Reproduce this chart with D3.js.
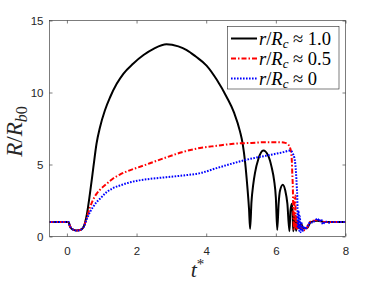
<!DOCTYPE html>
<html>
<head>
<meta charset="utf-8">
<script src="https://cdn.jsdelivr.net/npm/d3@7"></script>
<style>
  html, body { margin: 0; padding: 0; background: #fff; }
  svg { display: block; }
</style>
</head>
<body>
<svg id="chart" width="382" height="286"></svg>
<script>
// ---- data ----
const xTicks = [0, 2, 4, 6, 8];
const yTicks = [0, 5, 10, 15];
const legendValues = ["1.0", "0.5", "0"];

const blackT = [-0.5, 0.05, 0.08, 0.13, 0.2, 0.28, 0.38, 0.47, 0.57, 0.66, 0.76, 0.85, 0.95, 1.09, 1.24, 1.43, 1.62, 1.9, 2.2, 2.5, 2.86, 3.2, 3.44, 3.7, 4.01, 4.3, 4.59, 4.8, 4.97, 5.05, 5.12, 5.18, 5.23, 5.26,
  5.3, 5.35, 5.4, 5.5, 5.64, 5.78, 5.88, 5.95, 6.0, 6.04,
  6.08, 6.12, 6.2, 6.27, 6.33, 6.39,
  6.42, 6.46, 6.48, 6.5,
  6.53, 6.55, 6.57, 6.58,
  6.62, 6.66, 6.72, 6.8, 6.9, 7.0, 7.2, 7.4, 8.0];
const blackR = [1, 1, 0.75, 0.55, 0.46, 0.42, 0.45, 0.62, 1.5, 2.96, 4.81, 6.44, 7.59, 8.75, 9.67, 10.6, 11.3, 12.0, 12.6, 13.05, 13.35, 13.2, 12.95, 12.5, 11.87, 10.9, 9.67, 8.6, 7.3, 6.4, 5.1, 3.5, 1.9, 0.53,
  2.4, 3.6, 4.4, 5.4, 5.97, 5.62, 4.8, 3.9, 2.7, 0.46,
  2.3, 3.2, 3.6, 3.2, 2.3, 0.37,
  1.8, 2.27, 1.7, 0.37,
  1.2, 1.46, 1.0, 0.4,
  1.0, 0.6, 0.9, 0.55, 0.6, 1.0, 1.1, 1.0, 1.0];

const redT = [-0.5, 0.05, 0.08, 0.13, 0.2, 0.28, 0.38, 0.47, 0.57, 0.66, 0.75, 0.85, 0.95, 1.14, 1.3, 1.52, 1.75, 2.05, 2.4, 2.86, 3.3, 3.82, 4.3, 4.78, 5.3, 5.74, 6.1, 6.27, 6.35, 6.41, 6.44, 6.46, 6.47, 6.49, 6.5, 6.52, 6.54, 6.56, 6.57, 6.59, 6.61, 6.64, 6.67, 6.71, 6.76, 6.82, 6.88, 6.94, 7.0, 7.1, 7.2, 7.3, 7.45, 8.0];
const redR = [1, 1, 0.75, 0.55, 0.46, 0.42, 0.45, 0.62, 1.3, 2.0, 2.55, 2.96, 3.25, 3.66, 3.98, 4.3, 4.55, 4.8, 5.1, 5.5, 5.85, 6.15, 6.3, 6.44, 6.5, 6.55, 6.55, 6.5, 6.4, 6.15, 5.8, 5.2, 4.5, 3.2, 1.8, 0.5, 2.8, 2.85, 0.6, 1.4, 0.45, 1.2, 0.5, 0.8, 0.4, 0.45, 0.55, 0.85, 1.05, 1.1, 1.15, 1.05, 1.0, 1.0];

const blueT = [-0.5, 0.05, 0.08, 0.13, 0.2, 0.28, 0.38, 0.47, 0.57, 0.66, 0.75, 0.85, 0.95, 1.14, 1.3, 1.52, 1.75, 2.05, 2.38, 2.86, 3.34, 3.82, 4.3, 4.78, 5.26, 5.74, 6.22, 6.41, 6.5, 6.56, 6.6, 6.62, 6.63, 6.65, 6.67, 6.69, 6.71, 6.73, 6.76, 6.8, 6.84, 6.88, 6.93, 6.98, 7.05, 7.12, 7.2, 7.25, 7.3, 7.35, 7.42, 7.5, 7.6, 8.0];
const blueR = [1, 1, 0.75, 0.55, 0.46, 0.42, 0.45, 0.62, 1.2, 1.69, 2.05, 2.38, 2.62, 3.08, 3.33, 3.54, 3.72, 3.89, 4.0, 4.12, 4.24, 4.4, 4.75, 5.09, 5.39, 5.62, 5.86, 5.97, 5.7, 5.0, 3.5, 2.3, 0.6, 1.8, 0.4, 1.4, 0.3, 1.0, 0.35, 0.7, 0.5, 0.6, 0.8, 1.0, 0.95, 1.1, 1.25, 1.05, 1.2, 0.85, 1.05, 0.95, 1.0, 1.0];

// ---- layout ----
const svg = d3.select("#chart");
const L = 49.5, R = 345.5, T = 20.5, B = 236.5;
const x = d3.scaleLinear().domain([-0.5, 8]).range([L, R]);
const y = d3.scaleLinear().domain([0, 15]).range([B, T]);
const axisColor = "#262626";
const tickFont = "Liberation Sans, Arial, Helvetica, sans-serif";

svg.append("defs").append("clipPath").attr("id", "clip")
  .append("rect").attr("x", L).attr("y", T).attr("width", R - L).attr("height", B - T);

svg.append("rect").attr("x", L).attr("y", T).attr("width", R - L).attr("height", B - T).attr("fill", "#fff");

const line = d3.line().x(d => x(d[0])).y(d => y(d[1])).curve(d3.curveMonotoneX);
const series = [
  { t: blackT, r: blackR, color: "#000000", dash: null },
  { t: redT, r: redR, color: "#ff0000", dash: "5,2,1.5,2" },
  { t: blueT, r: blueR, color: "#0000ff", dash: "1.6,1.4" }
];
const gLines = svg.append("g").attr("clip-path", "url(#clip)");
series.forEach(s => {
  gLines.append("path")
    .datum(s.t.map((t, i) => [t, s.r[i]]))
    .attr("d", line)
    .attr("fill", "none")
    .attr("stroke", s.color)
    .attr("stroke-width", 2)
    .attr("stroke-dasharray", s.dash)
    .attr("stroke-linejoin", "round");
});

function styleAxis(g, showLabels) {
  g.select(".domain").remove();
  g.selectAll(".tick line").attr("stroke", axisColor).attr("stroke-width", 0.6);
  g.selectAll(".tick text").attr("fill", axisColor).style("font-family", tickFont).style("font-size", "11.5px");
  if (!showLabels) g.selectAll(".tick text").remove();
}
svg.append("g").attr("transform", `translate(0,${B})`)
  .call(d3.axisBottom(x).tickValues(xTicks).tickSize(-3).tickPadding(10).tickFormat(d3.format("d")))
  .call(g => styleAxis(g, true));
svg.append("g").attr("transform", `translate(0,${T})`)
  .call(d3.axisTop(x).tickValues(xTicks).tickSize(-3))
  .call(g => styleAxis(g, false));
svg.append("g").attr("transform", `translate(${L},0)`)
  .call(d3.axisLeft(y).tickValues(yTicks).tickSize(-3).tickPadding(6).tickFormat(d3.format("d")))
  .call(g => styleAxis(g, true));
svg.append("g").attr("transform", `translate(${R},0)`)
  .call(d3.axisRight(y).tickValues(yTicks).tickSize(-3))
  .call(g => styleAxis(g, false));

svg.append("rect").attr("x", L).attr("y", T).attr("width", R - L).attr("height", B - T)
  .attr("fill", "none").attr("stroke", axisColor).attr("stroke-width", 0.6);

const serif = "Liberation Serif, 'Times New Roman', serif";
const yl = svg.append("text")
  .attr("transform", `translate(22,${(T + B) / 2 + 3}) rotate(-90)`)
  .attr("text-anchor", "middle")
  .attr("fill", axisColor)
  .style("font-family", serif).style("font-size", "23px");
yl.append("tspan").attr("font-style", "italic").text("R");
yl.append("tspan").text("/");
yl.append("tspan").attr("font-style", "italic").text("R");
yl.append("tspan").attr("font-style", "italic").attr("font-size", "16px").attr("dy", 5).text("b");
yl.append("tspan").attr("font-size", "16px").text("0");

const xl = svg.append("text")
  .attr("x", (L + R) / 2).attr("y", 277)
  .attr("text-anchor", "middle")
  .attr("fill", axisColor)
  .style("font-family", serif).style("font-size", "22px");
xl.append("tspan").attr("font-style", "italic").text("t");
xl.append("tspan").attr("font-size", "15px").attr("dy", -8).text("*");

const lg = svg.append("g");
lg.append("rect").attr("x", 227.5).attr("y", 26.5).attr("width", 111.5).attr("height", 62.5)
  .attr("fill", "#fff").attr("stroke", axisColor).attr("stroke-width", 0.6);
series.forEach((s, i) => {
  const cy = 38.5 + i * 20;
  lg.append("line").attr("x1", 231).attr("x2", 257).attr("y1", cy).attr("y2", cy)
    .attr("stroke", s.color).attr("stroke-width", 2).attr("stroke-dasharray", s.dash);
  const tx = lg.append("text").attr("x", 259).attr("y", cy + 6)
    .attr("fill", "#000").style("font-family", serif).style("font-size", "18.5px");
  tx.append("tspan").attr("font-style", "italic").text("r");
  tx.append("tspan").text("/");
  tx.append("tspan").attr("font-style", "italic").text("R");
  tx.append("tspan").attr("font-style", "italic").attr("font-size", "13px").attr("dy", 3).text("c");
  tx.append("tspan").attr("dy", -3).text(" ≈ " + legendValues[i]);
});
</script>
</body>
</html>
